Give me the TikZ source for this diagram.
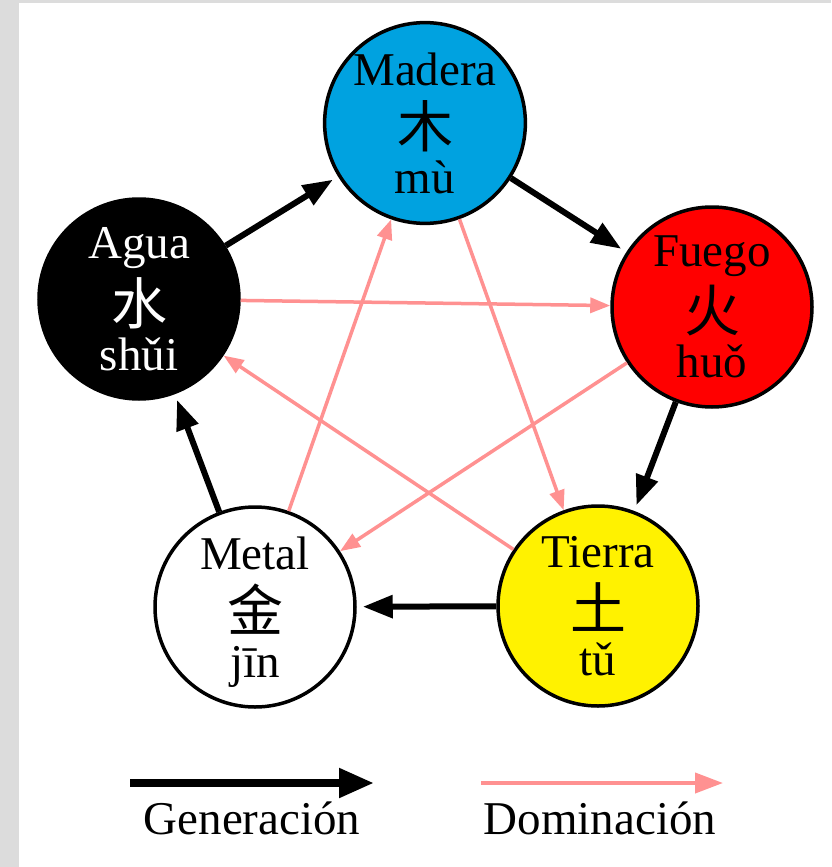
\documentclass[tikz,border=0pt]{standalone}
\usepackage{fontspec}
\setmainfont{Liberation Serif}
\newfontfamily\cjk{Noto Sans CJK SC}
\usetikzlibrary{arrows.meta}
\definecolor{woodblue}{RGB}{0,162,224}
\definecolor{domred}{RGB}{255,145,145}
\definecolor{framegray}{RGB}{220,220,220}
\tikzstyle{element} = [circle, draw=black, line width=3.5pt, minimum size=200pt, inner sep=0pt, align=center, font=\fontsize{47}{54}\selectfont]
\tikzstyle{gen} = [line width=6pt, -{Triangle[length=30pt,width=22pt]}, shorten >=6pt]
\tikzstyle{dom} = [draw=domred, line width=3.5pt, -{Triangle[length=20pt,width=15pt]}]
\tikzstyle{legend} = [font=\fontsize{47}{54}\selectfont, anchor=base]
\newcommand{\hanzi}[1]{{\cjk\fontsize{56}{54}\selectfont #1}}

\begin{document}
\begin{tikzpicture}[x=1pt,y=-1pt]
			% frame
			\fill[framegray] (0,0) rectangle (831,867);
			\fill[white] (19,3) rectangle (831,867);
			\useasboundingbox (0,0) rectangle (831,867);
			% the five elements
			\node (madera) [element, fill=woodblue] at (425,123) {Madera\\[8pt]\hanzi{木}\\[-8pt]mù};
			\node (fuego) [element, fill=red] at (712,307) {Fuego\\[8pt]\hanzi{火}\\[-8pt]huǒ};
			\node (tierra) [element, fill=yellow] at (598,606) {Tierra\\[8pt]\hanzi{土}\\[-8pt]tǔ};
			\node (metal) [element, fill=white] at (255,607) {Metal\\[8pt]\hanzi{金}\\[-8pt]\smash{jīn}};
			\node (agua) [element, fill=black, text=white] at (139,299) {Agua\\[8pt]\hanzi{水}\\[-8pt]shǔi};
			% domination
			\draw [dom] (agua) -- (fuego);
			\draw [dom] (fuego) -- (metal);
			\draw [dom] (metal) -- (madera);
			\draw [dom] (madera) -- (tierra);
			\draw [dom] (tierra) -- (agua);
			% generation
			\draw [gen] (agua) -- (madera);
			\draw [gen] (madera) -- (fuego);
			\draw [gen] (fuego) -- (tierra);
			\draw [gen] (tierra) -- (metal);
			\draw [gen] (metal) -- (agua);
			% legend
			\coordinate (gena) at (130,783);
			\coordinate (genb) at (374,783);
			\coordinate (doma) at (481,783);
			\coordinate (domb) at (723,783);
			\draw [line width=8pt, -{Triangle[length=35pt,width=28pt]}] (gena) -- (genb);
			\draw [draw=domred, line width=4pt, -{Triangle[length=28pt,width=20pt]}] (doma) -- (domb);
			\node (genlabel) [legend] at (252,834) {Generación};
			\node (domlabel) [legend] at (600,834) {Dominación};
		\end{tikzpicture}
\end{document}
